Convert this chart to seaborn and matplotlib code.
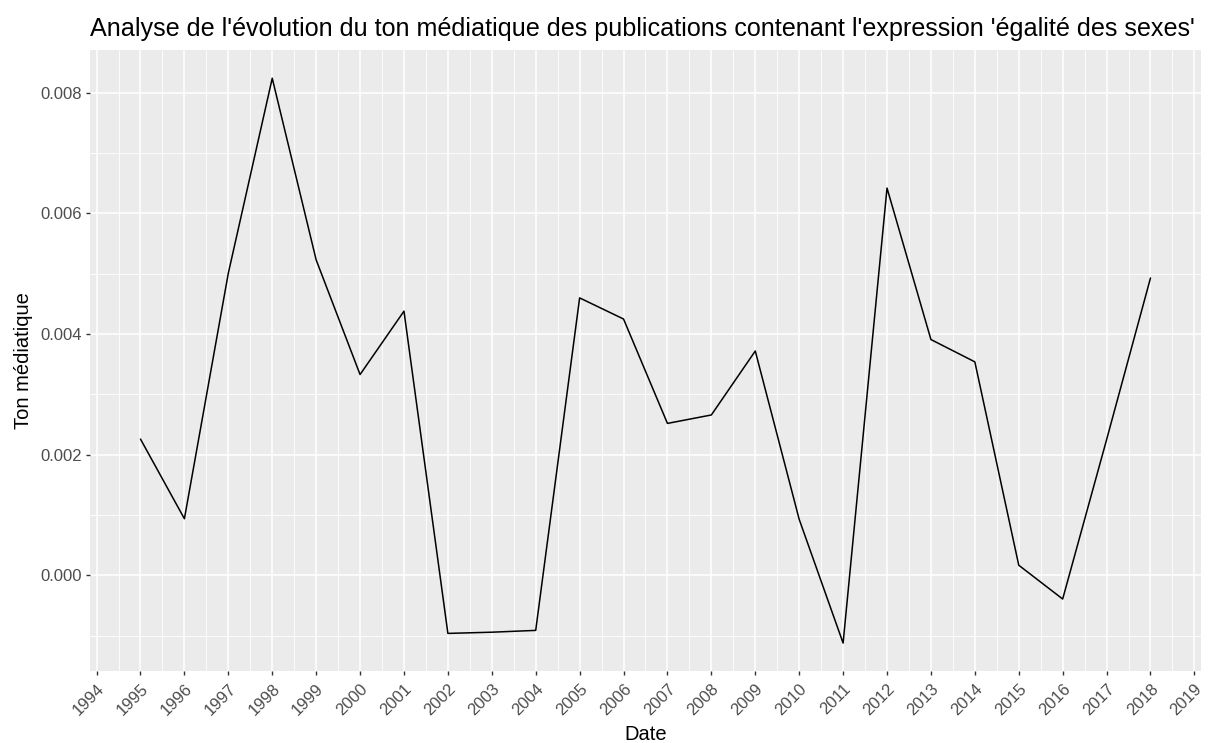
import pandas as pd
import matplotlib
matplotlib.use("Agg")
import matplotlib.pyplot as plt
import seaborn as sns
from matplotlib.ticker import MultipleLocator, FormatStrFormatter

# données
annees = [1995, 1996, 1997, 1998, 1999, 2000, 2001, 2002, 2003, 2004, 2005, 2006,
          2007, 2008, 2009, 2010, 2011, 2012, 2013, 2014, 2015, 2016, 2017, 2018]
ton = [0.00226, 0.00094, 0.00501, 0.00824, 0.00523, 0.00333, 0.00438, -0.00096,
       -0.00094, -0.00091, 0.00460, 0.00425, 0.00252, 0.00266, 0.00372, 0.00093,
       -0.00112, 0.00642, 0.00391, 0.00354, 0.00017, -0.00039, 0.00225, 0.00493]
annees_ticks = list(range(1994, 2020))

df = pd.DataFrame({'Date': annees, 'Ton médiatique': ton})

sns.set_style("darkgrid", {
    "axes.facecolor": "#EBEBEB",
    "grid.color": "white",
    "axes.edgecolor": "#EBEBEB",
    "xtick.bottom": True,
    "ytick.left": True,
})
plt.rcParams['font.family'] = ['Liberation Sans', 'DejaVu Sans']

fig = plt.figure(figsize=(12.08, 7.43), dpi=100)
ax = fig.add_axes([0.0745, 0.0965, 0.9197, 0.8362])

sns.lineplot(data=df, x='Date', y='Ton médiatique', color='black', linewidth=1.1, ax=ax)
ax.margins(x=0.05, y=0.05)

ax.set_xticks(annees_ticks)
ax.set_xticklabels([str(a) for a in annees_ticks], rotation=45, ha='right',
                   va='top', rotation_mode='anchor')
ax.xaxis.set_minor_locator(MultipleLocator(0.5))
ax.yaxis.set_major_locator(MultipleLocator(0.002))
ax.yaxis.set_minor_locator(MultipleLocator(0.001))
ax.yaxis.set_major_formatter(FormatStrFormatter('%.3f'))

ax.grid(which='major', color='white', linewidth=1.1)
ax.grid(which='minor', color='white', linewidth=0.6)
ax.tick_params(which='major', length=3, width=1, color='#333333',
               labelsize=12, labelcolor='#4D4D4D', pad=3)
ax.tick_params(axis='x', pad=4)
ax.tick_params(which='minor', length=0)
for s in ax.spines.values():
    s.set_visible(False)

ax.set_xlabel('Date', fontsize=14.5, color='black', labelpad=5)
ax.set_ylabel('Ton médiatique', fontsize=14.5, color='black', labelpad=5)
ax.set_title("Analyse de l'évolution du ton médiatique des publications contenant l'expression 'égalité des sexes'",
             fontsize=18.1, loc='left', color='black', pad=10)

fig.savefig('out.png', dpi=100)
